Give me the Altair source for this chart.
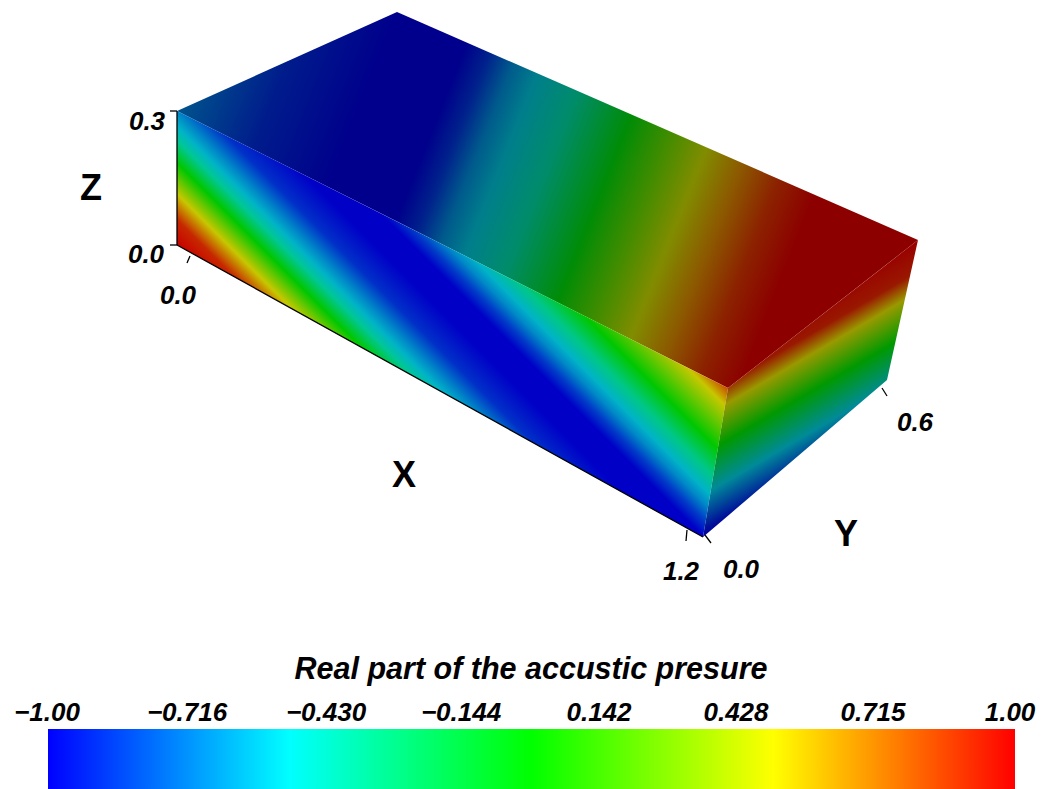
import altair as alt
import pandas as pd

# --- colour map of the pressure (-1 .. 1) ---
PAL_VALUES = [-1.0, -0.5, 0.0, 0.5, 1.0]
PAL_RGB = [(0, 0, 255), (0, 255, 255), (0, 255, 0), (255, 255, 0), (255, 0, 0)]

# --- box faces as seen in the picture (picture coordinates) ---
TOP_FACE = [(177, 111), (397, 12), (918, 240), (728, 388)]
FRONT_FACE = [(177, 111), (728, 388), (703, 537), (177, 245)]
RIGHT_FACE = [(728, 388), (918, 240), (887, 380), (703, 537)]

# --- pressure read across each face, along the wave direction ---
TOP_NORMAL = (0.93, 0.37)
TOP_POS = [206, 290, 373, 450, 475, 500, 527, 570, 630, 670, 712, 750, 790, 830, 943]
TOP_VAL = [-0.7, -0.9, -1.0, -1.0, -0.88, -0.68, -0.55, -0.38, -0.02, 0.22, 0.46, 0.68, 0.88, 1.0, 1.0]
TOP_SHADE = 0.55

FRONT_NORMAL = (0.707, -0.707)
FRONT_POS = [-48, -30, -12, 10, 26, 36, 46, 64, 92, 118, 130, 142, 152, 168, 190, 226, 240]
FRONT_VAL = [1.0, 0.9, 0.5, 0.0, -0.38, -0.55, -0.66, -0.88, -1.0, -1.0, -0.85, -0.66, -0.55, -0.34, 0.0, 0.5, 0.8]
FRONT_SHADE = 0.78

RIGHT_NORMAL = (0.504, 0.864)
RIGHT_POS = [670, 697, 715, 747, 782, 812, 818]
RIGHT_VAL = [1.0, 0.92, 0.5, 0.0, -0.55, -0.95, -1.0]
RIGHT_SHADE = 0.6

# --- text ---
TITLE = "Real part of the accustic presure"
BAR_LABELS = ["−1.00", "−0.716", "−0.430", "−0.144", "0.142", "0.428", "0.715", "1.00"]
BAR_LABEL_X = [47, 187, 326, 461, 599, 736, 873, 1010]
AXIS_LABELS = ["0.3", "0.0", "0.0", "1.2", "0.0", "0.6"]
AXIS_LABEL_X = [147, 146, 178, 681, 741, 915]
AXIS_LABEL_Y = [130, 263, 304, 580, 578, 431]
AXIS_NAMES = ["Z", "X", "Y"]
AXIS_NAME_X = [91, 404, 846]
AXIS_NAME_Y = [200, 487, 546]

# --- axis strokes: x, y, x2, y2 ---
AXIS_X1 = [177, 170, 170, 177, 190, 687, 705, 882]
AXIS_Y1 = [111, 111, 245, 245, 256, 530, 535, 388]
AXIS_X2 = [177, 177, 177, 703, 187, 686, 711, 887]
AXIS_Y2 = [245, 111, 245, 537, 263, 541, 543, 396]

BAR_X = (48, 1015)
BAR_Y = (729, 789)

FONT = "Liberation Sans"
X_SCALE = alt.Scale(domain=[8, 1045], nice=False, zero=False)
Y_SCALE = alt.Scale(domain=[789, 8], nice=False, zero=False)
X = lambda f: alt.X(f, type="quantitative", scale=X_SCALE, axis=None)
Y = lambda f: alt.Y(f, type="quantitative", scale=Y_SCALE, axis=None)


def colour(value, shade=1.0):
    for i in range(len(PAL_VALUES) - 1):
        a, b = PAL_VALUES[i], PAL_VALUES[i + 1]
        if value <= b:
            t = max(0.0, (value - a) / (b - a))
            rgb = [PAL_RGB[i][k] + t * (PAL_RGB[i + 1][k] - PAL_RGB[i][k]) for k in range(3)]
            return "#%02x%02x%02x" % tuple(int(round(c * shade)) for c in rgb)
    return "#%02x%02x%02x" % tuple(int(round(c * shade)) for c in PAL_RGB[-1])


def outline(poly):
    xs = sorted({p[0] for p in poly})
    rows = []
    n = len(poly)
    for x in xs:
        ys = []
        for i in range(n):
            (x0, y0), (x1, y1) = poly[i], poly[(i + 1) % n]
            if min(x0, x1) <= x <= max(x0, x1):
                if x0 == x1:
                    ys += [y0, y1]
                else:
                    ys.append(y0 + (x - x0) / (x1 - x0) * (y1 - y0))
        rows.append({"x": x, "y": min(ys), "y2": max(ys)})
    return pd.DataFrame(rows)


def gradient(poly, normal, pos, val, shade):
    xs = [p[0] for p in poly]
    ys = [p[1] for p in poly]
    w, h = max(xs) - min(xs), max(ys) - min(ys)
    s0, s1 = pos[0], pos[-1]
    span = s1 - s0
    a = normal[0] * w / span
    b = normal[1] * h / span
    c = (normal[0] * min(xs) + normal[1] * min(ys) - s0) / span
    d = a * a + b * b
    x1, y1 = -c * a / d, -c * b / d
    return alt.Gradient(
        gradient="linear",
        x1=x1, y1=y1, x2=x1 + a / d, y2=y1 + b / d,
        stops=[alt.GradientStop(color=colour(v, shade), offset=(p - s0) / span)
               for p, v in zip(pos, val)],
    )


def face(poly, normal, pos, val, shade):
    return alt.Chart(outline(poly)).mark_area(
        color=gradient(poly, normal, pos, val, shade), line=False, interpolate="linear"
    ).encode(x=X("x"), y=Y("y"), y2="y2")


bar = alt.Chart(pd.DataFrame([{"x": BAR_X[0], "x2": BAR_X[1], "y": BAR_Y[0], "y2": BAR_Y[1]}])).mark_rect(
    color=alt.Gradient(
        gradient="linear", x1=0, y1=0, x2=1, y2=0,
        stops=[alt.GradientStop(color=colour(v), offset=(v + 1) / 2) for v in PAL_VALUES],
    )
).encode(x=X("x"), x2="x2", y=Y("y"), y2="y2")

strokes = alt.Chart(pd.DataFrame({"x": AXIS_X1, "y": AXIS_Y1, "x2": AXIS_X2, "y2": AXIS_Y2})).mark_rule(
    color="black", strokeWidth=1.3
).encode(x=X("x"), y=Y("y"), x2="x2", y2="y2")


def texts(labels, xs, ys, size, style="italic"):
    return alt.Chart(pd.DataFrame({"t": labels, "x": xs, "y": ys})).mark_text(
        font=FONT, fontSize=size, fontStyle=style, fontWeight="bold",
        align="center", baseline="alphabetic", color="black",
    ).encode(x=X("x"), y=Y("y"), text="t:N")


chart = alt.layer(
    face(TOP_FACE, TOP_NORMAL, TOP_POS, TOP_VAL, TOP_SHADE),
    face(FRONT_FACE, FRONT_NORMAL, FRONT_POS, FRONT_VAL, FRONT_SHADE),
    face(RIGHT_FACE, RIGHT_NORMAL, RIGHT_POS, RIGHT_VAL, RIGHT_SHADE),
    strokes,
    bar,
    texts([TITLE], [531], [679], 30.5),
    texts(BAR_LABELS, BAR_LABEL_X, [721] * len(BAR_LABELS), 26),
    texts(AXIS_LABELS, AXIS_LABEL_X, AXIS_LABEL_Y, 26),
    texts(AXIS_NAMES, AXIS_NAME_X, AXIS_NAME_Y, 36, style="normal"),
).properties(
    width=1037, height=781, padding=0, background="white",
    autosize=alt.AutoSizeParams(type="none"),
).configure_view(stroke=None)

chart.save("out.html", embed_options={"renderer": "svg", "actions": False})
